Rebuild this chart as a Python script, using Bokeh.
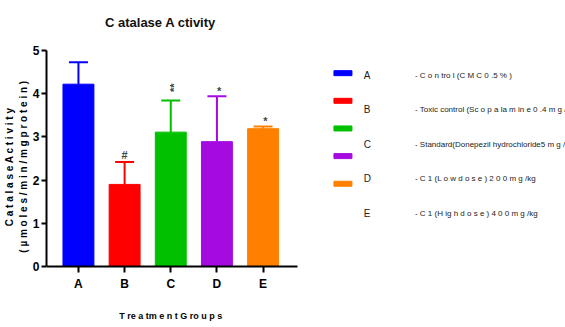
import math
from bokeh.plotting import figure
from bokeh.models import Range1d, ColumnDataSource, Whisker, TeeHead, Label, FixedTicker
from bokeh.core.properties import value
from bokeh.embed import file_html
from bokeh.resources import INLINE

# ---- data ----
groups = ["A", "B", "C", "D", "E"]
means = [4.22, 1.90, 3.11, 2.89, 3.19]
errors = [0.51, 0.52, 0.73, 1.05, 0.05]
colors = ["#0000FF", "#FF0000", "#00C000", "#A50BE0", "#FF8000"]
marks = ["", "#", "**", "*", "*"]
legend_desc = [
    "- C o n tro l (C M C 0 .5 % )",
    "- Toxic control (Sc o p a la m in e 0 .4 m g /kg",
    "- Standard(Donepezil hydrochloride5 m g /kg",
    "- C 1 (L o w d o s e ) 2 0 0 m g /kg",
    "- C 1 (H ig h d o s e ) 4 0 0 m g /kg",
]
y_ticks = [0, 1, 2, 3, 4, 5]
title_text = "C atalase A ctivity"
x_title = "T re a tm e n t G ro u p s"
y_title = "C a t a l a s e   A c t i v i t y\n( µ m o l e s / m i n / m g   p r o t e i n )"

FONT = "Liberation Sans"

xs = list(range(len(groups)))
upper = [m + e for m, e in zip(means, errors)]
src = ColumnDataSource(dict(x=xs, top=means, upper=upper, color=colors))

p = figure(
    x_range=Range1d(-0.692, 10.551),
    y_range=Range1d(-1.412, 6.157),
    width=565, height=327,
    min_border_left=45, min_border_right=0, min_border_top=0, min_border_bottom=0,
    output_backend="svg", toolbar_location=None,
)

p.vbar(x="x", top="top", width=0.67, color="color", source=src)

w = Whisker(base="x", upper="upper", lower="top", source=src,
            line_color="color", line_width=2,
            upper_head=TeeHead(size=19, line_width=2, line_color="color"),
            lower_head=None)
p.add_layout(w)

# significance marks, placed just above each error bar
mark_gap = {"#": 0.15, "*": 0.13, "**": 0.30}
mark_dx = {"#": 0.0, "*": 0.05, "**": 0.08}
for i, t in enumerate(marks):
    if t:
        p.add_layout(Label(x=xs[i] + mark_dx[t], y=upper[i] + mark_gap[t], text=t,
                           text_font=FONT, text_font_size="11px", text_font_style="bold",
                           text_align="center", text_baseline="middle",
                           angle=math.pi / 2 if t == "**" else 0))

p.grid.visible = False
p.outline_line_color = None

p.yaxis.ticker = y_ticks
p.yaxis.bounds = (0, 5)
p.yaxis.minor_tick_line_color = None
p.yaxis.major_tick_out = 5
p.yaxis.major_tick_in = 0
p.yaxis.major_label_standoff = 2
p.yaxis.axis_label = y_title
p.yaxis.axis_label_text_font_size = "10px"
p.yaxis.axis_label_text_line_height = 1.3
p.yaxis.axis_label_standoff = 1

p.xaxis.fixed_location = 0
p.xaxis.ticker = FixedTicker(ticks=xs)
p.xaxis.major_label_overrides = {i: g for i, g in zip(xs, groups)}
p.xaxis.bounds = (-0.692, 4.735)
p.xaxis.major_tick_out = 6
p.xaxis.major_tick_in = 0
p.xaxis.major_label_standoff = 5

for ax in (p.xaxis, p.yaxis):
    ax.axis_line_width = 2
    ax.axis_line_color = "black"
    ax.major_tick_line_width = 2
    ax.major_label_text_font = FONT
    ax.major_label_text_font_size = "12px"
    ax.major_label_text_font_style = "bold"
    ax.major_label_text_color = "black"
    ax.axis_label_text_font = FONT
    ax.axis_label_text_font_style = "bold"
    ax.axis_label_text_color = "black"

# chart title and x-axis title
p.text(x=[1.78], y=[5.65], text=[title_text], text_font=value(FONT),
       text_font_size="13px", text_font_style="bold", text_color="#111111",
       text_align="center", text_baseline="middle")
p.text(x=[2], y=[-1.157], text=[x_title], text_font=value(FONT),
       text_font_size="9px", text_font_style="bold", text_color="black",
       text_align="center", text_baseline="middle")

# ---- legend drawn at the right of the bars ----
n = len(groups)
sw_x = [5.73] * n
sw_y = [4.475 - 0.64 * i for i in range(n)]
lab_x = [6.18] * n
desc_x = [7.29] * n
lab_y = [4.42 - 0.797 * i for i in range(n)]
lsrc = ColumnDataSource(dict(sx=sw_x, sy=sw_y, color=colors, lx=lab_x, ly=lab_y,
                             g=groups, dx=desc_x, desc=legend_desc))
p.rect(x="sx", y="sy", width=18, height=5, width_units="screen", height_units="screen",
       color="color", source=lsrc)
p.text(x="lx", y="ly", text="g", source=lsrc, text_font=value(FONT),
       text_font_size="10px", text_baseline="middle", text_color="#222222")
p.text(x="dx", y="ly", text="desc", source=lsrc, text_font=value(FONT),
       text_font_size="8px", text_baseline="middle", text_color="#222222")

open("out.html", "w").write(file_html(p, INLINE))
